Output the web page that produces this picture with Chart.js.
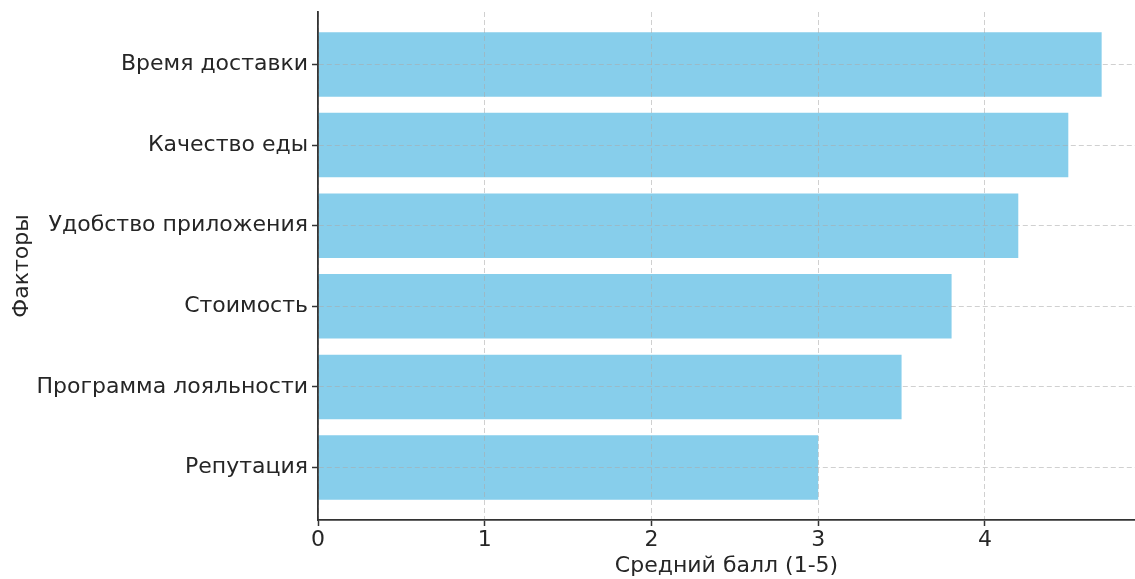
<!DOCTYPE html>
<html>
<head>
<meta charset="utf-8">
<script src="https://cdn.jsdelivr.net/npm/chart.js@4"></script>
<style>
  html, body { margin: 0; padding: 0; background: #fff; }
  #wrap { width: 1135px; height: 579px; }
</style>
</head>
<body>
<div id="wrap"><canvas id="chart" width="1135" height="579"></canvas></div>
<script>
// --- Data ---
const factors = ['Время доставки', 'Качество еды', 'Удобство приложения', 'Стоимость', 'Программа лояльности', 'Репутация'];
const scores = [4.7, 4.5, 4.2, 3.8, 3.5, 3.0];
const xTicks = [0, 1, 2, 3, 4];

const textColor = '#262626';
const axisColor = '#333333';
const gridColor = 'rgba(170,170,170,0.55)';

const points = scores.map((v, i) => ({ x: v, y: i }));

const ctx = document.getElementById('chart').getContext('2d');
new Chart(ctx, {
  type: 'bar',
  data: {
    datasets: [{
      data: points,
      backgroundColor: '#87CEEB',
      borderWidth: 0,
      barPercentage: 0.8,
      categoryPercentage: 1.0
    }]
  },
  options: {
    indexAxis: 'y',
    responsive: false,
    animation: false,
    devicePixelRatio: 1,
    layout: { padding: { top: 12, right: 0, left: 0, bottom: 0 } },
    plugins: { legend: { display: false }, tooltip: { enabled: false } },
    scales: {
      x: {
        type: 'linear',
        min: 0,
        max: 4.9,
        afterFit: s => { s.height = 59; s.paddingLeft = 0; s.paddingRight = 0; },
        ticks: {
          stepSize: 1,
          includeBounds: false,
          color: textColor,
          font: { family: 'DejaVu Sans', size: 22 },
          padding: 1,
          callback: v => xTicks.includes(v) ? String(v) : ''
        },
        grid: { z: 1, color: gridColor, lineWidth: 1, tickLength: 6, tickColor: axisColor, tickWidth: 1.5 },
        border: { display: true, z: 2, color: axisColor, width: 1.8, dash: [5, 3] },
        title: {
          display: true,
          text: 'Средний балл (1-5)',
          color: textColor,
          font: { family: 'DejaVu Sans', size: 22 },
          padding: { top: 2, bottom: 0 }
        }
      },
      y: {
        type: 'linear',
        min: -0.65,
        max: 5.65,
        reverse: true,
        offset: false,
        afterFit: s => { s.width = 318; s.paddingTop = 0; s.paddingBottom = 0; },
        ticks: {
          stepSize: 1,
          includeBounds: false,
          color: textColor,
          font: { family: 'DejaVu Sans', size: 22 },
          padding: 4,
          callback: v => Number.isInteger(v) && factors[v] !== undefined ? factors[v] : ''
        },
        grid: { z: 1, offset: false, color: gridColor, lineWidth: 1, tickLength: 6, tickColor: axisColor, tickWidth: 1.5 },
        border: { display: true, z: 2, color: axisColor, width: 1.8, dash: [5, 3] },
        title: {
          display: true,
          text: 'Факторы',
          color: textColor,
          font: { family: 'DejaVu Sans', size: 22 },
          padding: { top: 9, bottom: 0 }
        }
      }
    }
  }
});
</script>
</body>
</html>
